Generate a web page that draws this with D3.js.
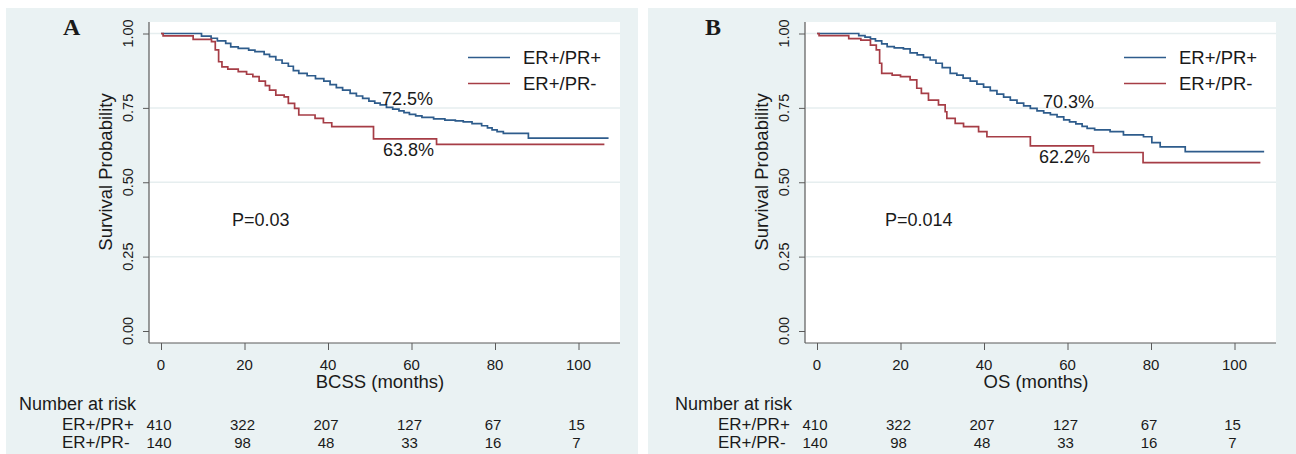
<!DOCTYPE html>
<html>
<head>
<meta charset="utf-8">
<script src="https://cdn.jsdelivr.net/npm/d3@7"></script>
<style>
  html, body { margin: 0; padding: 0; background: #ffffff; }
  svg { display: block; }
  text { font-family: "Liberation Sans", Arial, sans-serif; fill: #1a1a1a; }
</style>
</head>
<body>
<svg id="chart" width="1296" height="454"></svg>
<script>
// ---------------- DATA ----------------
const timeTicks = [0, 20, 40, 60, 80, 100];
const survTicks = [0, 0.25, 0.5, 0.75, 1];
const survTickLabels = ["0.00", "0.25", "0.50", "0.75", "1.00"];
const groupNames = ["ER+/PR+", "ER+/PR-"];

// Panel A (BCSS) — ER+/PR+
const bcssPosTime = [0, 9.7, 12, 13.5, 15.5, 16.7, 18.5, 21, 22.5, 24.7, 26, 27.5, 29, 30.5, 31.7, 33, 35, 37, 39, 40.5, 42, 43.5, 45.3, 46.8, 48.3, 49.8, 51.2, 52.5, 54, 55.5, 57, 58.2, 59.5, 61, 62.5, 65.3, 68, 70.5, 72.4, 74.5, 76.8, 78.2, 79.3, 80.5, 82, 88, 107.2];
const bcssPosSurv = [1, 0.991, 0.984, 0.975, 0.967, 0.955, 0.95, 0.944, 0.939, 0.93, 0.922, 0.911, 0.9, 0.89, 0.875, 0.866, 0.858, 0.848, 0.84, 0.828, 0.818, 0.81, 0.799, 0.79, 0.782, 0.773, 0.766, 0.76, 0.752, 0.746, 0.74, 0.734, 0.728, 0.723, 0.718, 0.713, 0.709, 0.706, 0.703, 0.697, 0.69, 0.683, 0.676, 0.67, 0.664, 0.648, 0.648];
// Panel A (BCSS) — ER+/PR-
const bcssNegTime = [0, 0.5, 7.7, 12.1, 13, 13.8, 14.6, 16, 18.5, 20.5, 22, 23.5, 25, 26, 27.5, 29.5, 30.5, 32, 33, 36.9, 38.9, 40.9, 50.9, 66, 106.2];
const bcssNegSurv = [1, 0.992, 0.98, 0.973, 0.945, 0.905, 0.888, 0.88, 0.872, 0.863, 0.855, 0.84, 0.825, 0.81, 0.793, 0.787, 0.765, 0.748, 0.726, 0.715, 0.7, 0.687, 0.646, 0.627, 0.627];

// Panel B (OS) — ER+/PR+
const osPosTime = [0, 10, 11.5, 12.8, 14, 15.5, 16.8, 18.5, 20.7, 22.3, 24, 25.5, 27.1, 28.5, 30, 31.9, 33.5, 35, 36.7, 38.3, 39.9, 41.5, 43.1, 44.7, 46.3, 47.9, 49.5, 51.1, 52.7, 54.3, 55.9, 57.5, 59.1, 60.5, 62, 63.5, 64.7, 66.5, 70.2, 73.4, 78.2, 80.2, 82.2, 88.2, 107.1];
const osPosSurv = [1, 0.993, 0.988, 0.982, 0.975, 0.965, 0.956, 0.952, 0.948, 0.935, 0.928, 0.92, 0.911, 0.9, 0.885, 0.866, 0.86, 0.85, 0.84, 0.83, 0.82, 0.808, 0.796, 0.786, 0.776, 0.766, 0.757, 0.748, 0.74, 0.733, 0.727, 0.72, 0.71, 0.703, 0.696, 0.688, 0.681, 0.676, 0.67, 0.659, 0.653, 0.633, 0.619, 0.603, 0.603];
// Panel B (OS) — ER+/PR-
const osNegTime = [0, 0.5, 7.6, 10.5, 12.8, 14.2, 15, 15.5, 18, 20, 22.3, 23.9, 25, 26.7, 29.1, 30.7, 31.1, 33.1, 35.1, 38.7, 40.7, 51.1, 66.2, 78.1, 106.2];
const osNegSurv = [1, 0.993, 0.983, 0.978, 0.961, 0.945, 0.9, 0.866, 0.86, 0.855, 0.844, 0.816, 0.799, 0.776, 0.76, 0.737, 0.715, 0.698, 0.687, 0.67, 0.653, 0.622, 0.6, 0.566, 0.566];

// Number at risk
const riskPos = [410, 322, 207, 127, 67, 15];
const riskNeg = [140, 98, 48, 33, 16, 7];

// Panel texts
const panelLetters = ["A", "B"];
const xTitles = ["BCSS (months)", "OS (months)"];
const pValues = ["P=0.03", "P=0.014"];
const posLabels = ["72.5%", "70.3%"];
const negLabels = ["63.8%", "62.2%"];

// ---------------- DRAW ----------------
const svg = d3.select("#chart");
const BG = "#eaf2f3";
const BLUE = "#2e5c8c";
const RED = "#a63d46";
const AXIS = "#5a5a5a";

function drawPanel(i, ox, posT, posS, negT, negS, lab) {
  const g = svg.append("g").attr("transform", `translate(${ox},0)`);
  // panel background
  g.append("rect").attr("x", lab.bgX0).attr("y", 8).attr("width", lab.bgX1 - lab.bgX0).attr("height", 446).attr("fill", BG);
  // plot region
  const L = 149, R = 620, T = 22, B = 343;
  g.append("rect").attr("x", L).attr("y", T).attr("width", R - L).attr("height", B - T).attr("fill", "#ffffff");

  const x = d3.scaleLinear().domain([0, 100]).range([161, 578.5]);
  const y = d3.scaleLinear().domain([0, 1]).range([331, 33.5]);

  // grid
  g.selectAll(".grid").data(survTicks.filter(d => d > 0)).join("line")
    .attr("x1", L + 1).attr("x2", R).attr("y1", d => y(d)).attr("y2", d => y(d))
    .attr("stroke", "#e6eeef").attr("stroke-width", 1.5);

  // y axis
  const yAxis = d3.axisLeft(y).tickValues(survTicks).tickSize(6).tickFormat("");
  const ya = g.append("g").attr("transform", `translate(${L},0)`).call(yAxis);
  ya.select(".domain").remove();
  ya.selectAll("line").attr("stroke", AXIS);
  g.append("line").attr("x1", L).attr("x2", L).attr("y1", T).attr("y2", B).attr("stroke", AXIS).attr("stroke-width", 1.2);
  g.selectAll(".ytl").data(survTicks).join("text")
    .attr("transform", (d) => `translate(${133},${y(d)}) rotate(-90)`)
    .attr("text-anchor", "middle").attr("font-size", 14.5)
    .text((d, k) => survTickLabels[k]);
  g.append("text").attr("transform", `translate(${112},${172}) rotate(-90)`)
    .attr("text-anchor", "middle").attr("font-size", 18.5).text("Survival Probability");

  // x axis
  const xAxis = d3.axisBottom(x).tickValues(timeTicks).tickSize(7).tickFormat("");
  const xa = g.append("g").attr("transform", `translate(0,${B})`).call(xAxis);
  xa.select(".domain").remove();
  xa.selectAll("line").attr("stroke", AXIS);
  g.append("line").attr("x1", L).attr("x2", R).attr("y1", B).attr("y2", B).attr("stroke", AXIS).attr("stroke-width", 1.2);
  g.selectAll(".xtl").data(timeTicks).join("text")
    .attr("x", d => x(d)).attr("y", 369.5).attr("text-anchor", "middle").attr("font-size", 15).text(d => d);
  g.append("text").attr("x", 380).attr("y", 388).attr("text-anchor", "middle").attr("font-size", 18.5).text(xTitles[i]);

  // curves
  const line = d3.line().curve(d3.curveStepAfter).x(d => x(d[0])).y(d => y(d[1]));
  const posPts = posT.map((t, k) => [t, posS[k]]);
  const negPts = negT.map((t, k) => [t, negS[k]]);
  g.append("path").datum(posPts).attr("d", line).attr("fill", "none").attr("stroke", BLUE).attr("stroke-width", 1.7);
  g.append("path").datum(negPts).attr("d", line).attr("fill", "none").attr("stroke", RED).attr("stroke-width", 1.7);

  // legend
  const legY = [57.5, 83.5];
  const legColors = [BLUE, RED];
  groupNames.forEach((nm, k) => {
    g.append("line").attr("x1", 468).attr("x2", 510).attr("y1", legY[k]).attr("y2", legY[k])
      .attr("stroke", legColors[k]).attr("stroke-width", 1.7);
    g.append("text").attr("x", 523).attr("y", legY[k] + 6.5).attr("font-size", 18.5).text(nm);
  });

  // annotations
  g.append("text").attr("x", lab.posX).attr("y", lab.posY).attr("font-size", 18).text(posLabels[i]);
  g.append("text").attr("x", lab.negX).attr("y", lab.negY).attr("font-size", 18).text(negLabels[i]);
  g.append("text").attr("x", lab.pX).attr("y", 226).attr("font-size", 18).text(pValues[i]);

  // panel letter
  g.append("text").attr("x", lab.letterX).attr("y", 35).attr("font-size", 24).attr("font-weight", "bold")
    .style("font-family", "'Liberation Serif', 'Times New Roman', serif").text(panelLetters[i]);

  // number at risk table
  g.append("text").attr("x", 19).attr("y", 410).attr("font-size", 18).text("Number at risk");
  const rows = [riskPos, riskNeg];
  const rowY = [430, 448];
  rows.forEach((r, k) => {
    g.append("text").attr("x", 62).attr("y", rowY[k]).attr("font-size", 17).text(groupNames[k]);
    g.selectAll(".risk" + k).data(r).join("text")
      .attr("x", (d, j) => x(timeTicks[j]) - 2).attr("y", rowY[k])
      .attr("text-anchor", "middle").attr("font-size", 15).text(d => d);
  });
}

drawPanel(0, 0, bcssPosTime, bcssPosSurv, bcssNegTime, bcssNegSurv,
  { posX: 382, posY: 104.5, negX: 383, negY: 155.5, pX: 232, letterX: 63, bgX0: 6, bgX1: 638 });
drawPanel(1, 656, osPosTime, osPosSurv, osNegTime, osNegSurv,
  { posX: 387, posY: 108, negX: 383, negY: 163, pX: 229, letterX: 49, bgX0: -8, bgX1: 640 });
</script>
</body>
</html>
